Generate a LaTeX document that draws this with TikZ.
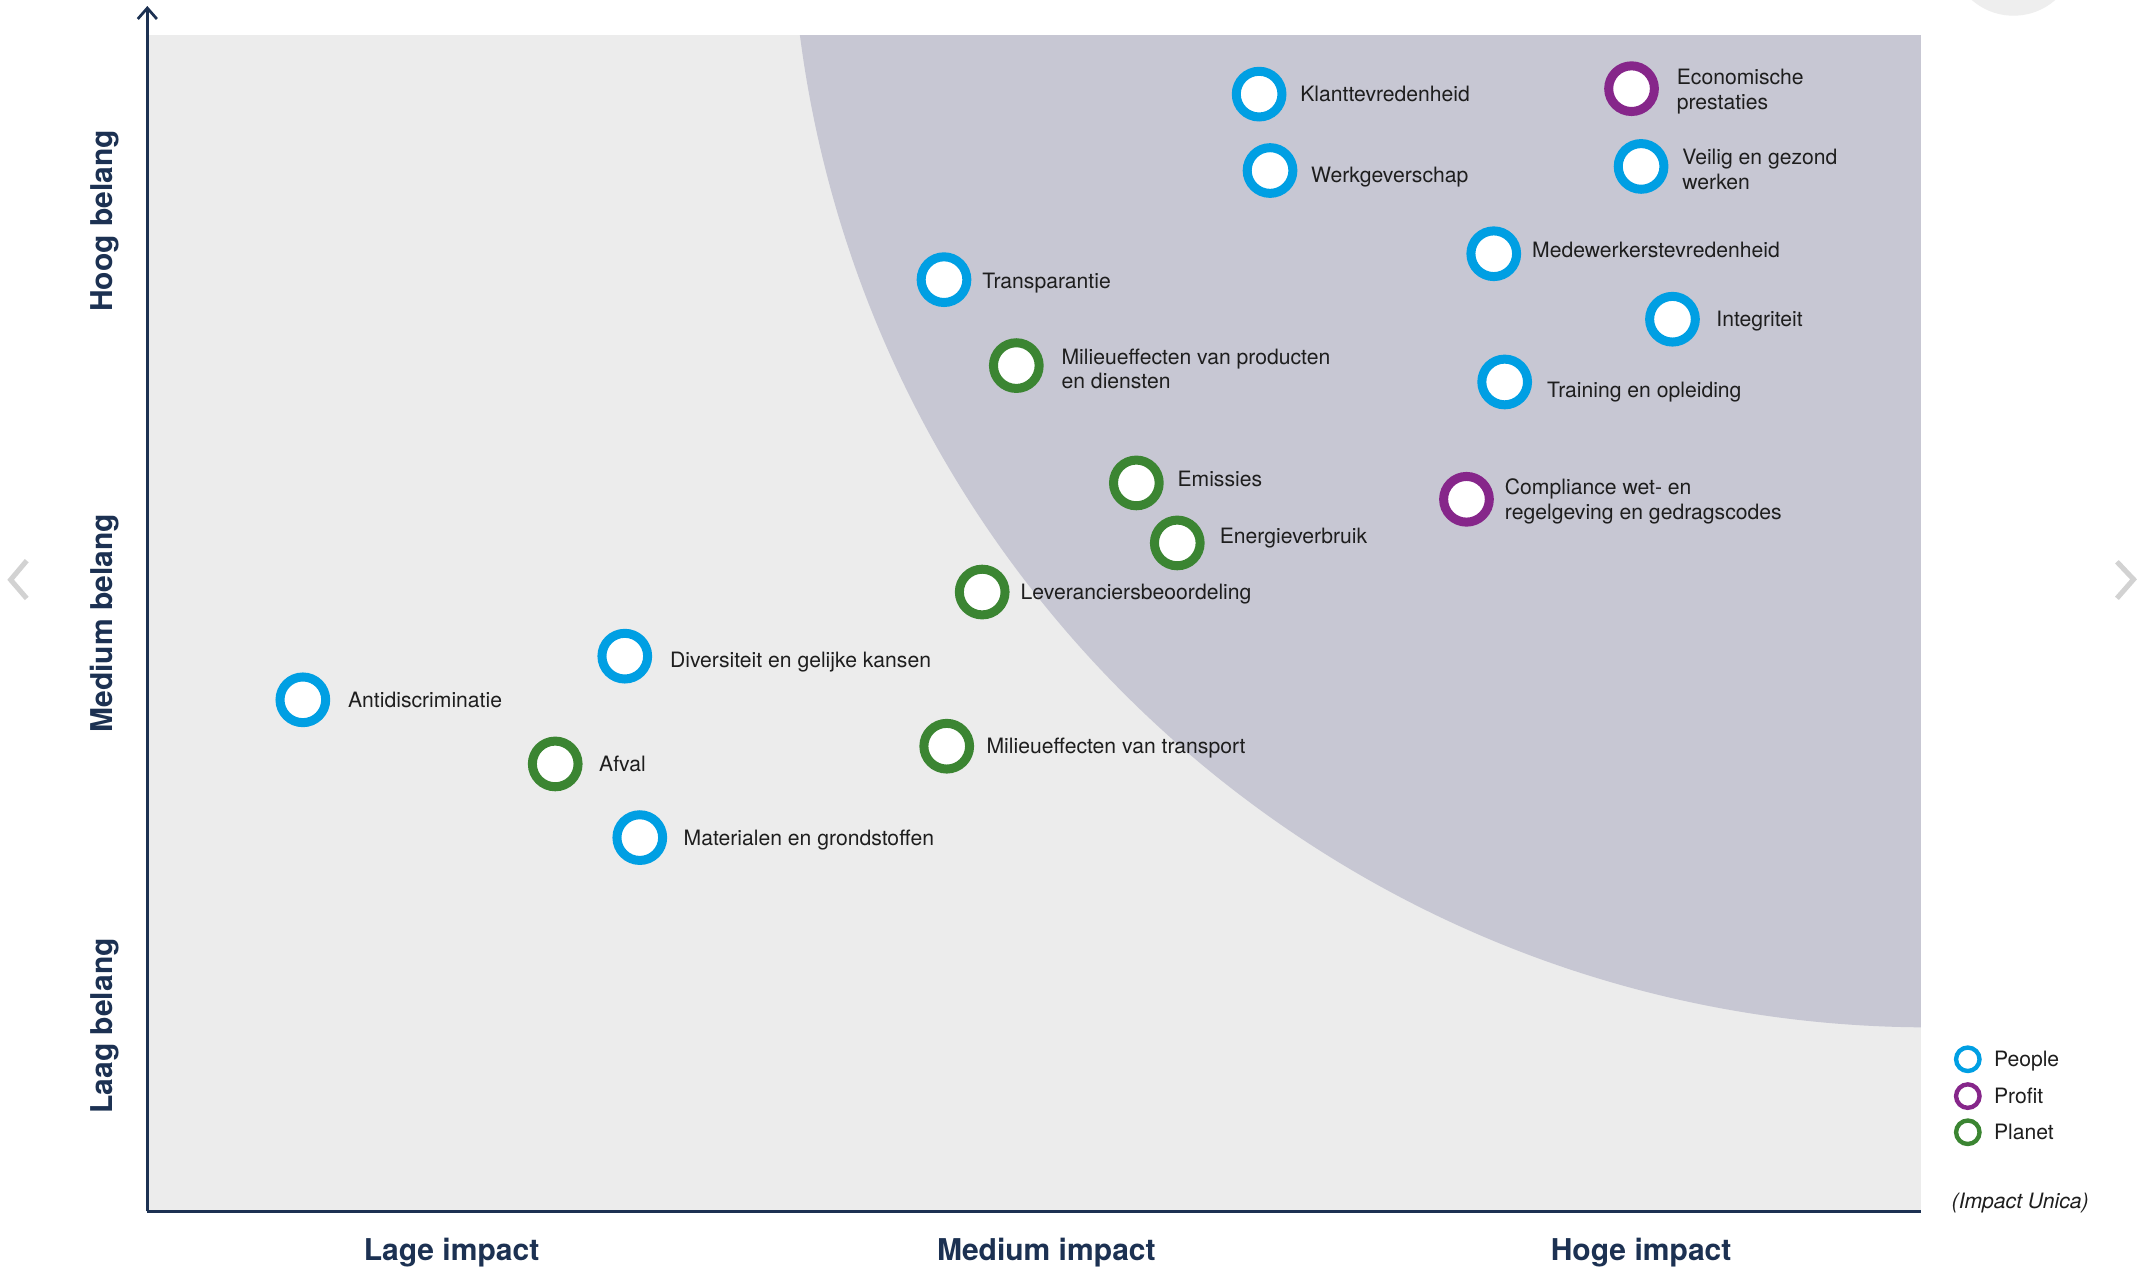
\documentclass[tikz,border=0pt]{standalone}
\usepackage{fontspec}
\setmainfont{TeX Gyre Heros}
\usetikzlibrary{arrows.meta}
\definecolor{cblue}{HTML}{009FE3}
\definecolor{cpurple}{HTML}{86268A}
\definecolor{cgreen}{HTML}{3B8532}
\definecolor{bglight}{HTML}{ECECEC}
\definecolor{bgdark}{HTML}{C7C7D3}
\definecolor{navy}{HTML}{1C3152}
\definecolor{txt}{HTML}{1E1E1E}
\definecolor{uigray}{HTML}{D2D2D2}
\definecolor{uicircle}{HTML}{EEEEEE}
\tikzset{
  ring/.style={circle, draw=#1, fill=white, line width=6.6pt, minimum size=33.5pt, inner sep=0pt},
  lring/.style={circle, draw=#1, fill=white, line width=3.2pt, minimum size=17.2pt, inner sep=0pt},
  lbl/.style={anchor=west, align=left, inner sep=0pt, text=txt, text height=11.2pt, text depth=0pt,
    font=\fontsize{15.5}{18}\selectfont},
  axlbl/.style={text=navy, font=\fontsize{22}{26}\selectfont\bfseries, inner sep=0pt},
  chev/.style={draw=uigray, line width=3.7pt},
}
\begin{document}
\begin{tikzpicture}[x=1pt, y=-1pt]
\path[use as bounding box] (0,0) rectangle (1568,928.77);
\clip (0,0) rectangle (1568,928.77);
\fill[white] (0,0) rectangle (1568,928.77);
% UI elements
\fill[uicircle] (1476,-34.9) circle (46.4);
\draw[chev] (19.6,411) -- (7.8,425) -- (19.6,438.7);
\draw[chev] (1551.8,411.8) -- (1564,424.7) -- (1551.8,438.6);
% plot area
\fill[bglight] (108,25.7) rectangle (1408,888);
\begin{scope}
\clip (108,25.7) rectangle (1408,888);
\fill[bgdark] (1414.5,-81.9) circle (835);
\end{scope}
% axes
\coordinate (origin) at (108,888);
\coordinate (ytop) at (108,4.4);
\coordinate (xend) at (1408,888);
\draw[navy, line width=2pt] (origin) -- (xend);
\draw[navy, line width=2pt, -{Straight Barb[length=8pt, width=14pt, line width=2pt]}] (origin) -- (ytop);
% axis labels
\node[axlbl, rotate=90] (hoog) at (77,162) {Hoog belang};
\node[axlbl, rotate=90] (medb) at (77,457) {Medium belang};
\node[axlbl, rotate=90] (laag) at (77,752) {Laag belang};
\node[axlbl] (lage) at (331,918) {Lage impact};
\node[axlbl] (medi) at (767,918) {Medium impact};
\node[axlbl] (hoge) at (1203,918) {Hoge impact};
% items
\node[ring=cblue] (k) at (923,69) {};
\node[lbl] (kl) at (953,69) {Klanttevredenheid};
\node[ring=cpurple] (ep) at (1196,65) {};
\node[lbl] (epl) at (1229,74.5) {Economische\\prestaties};
\node[ring=cblue] (wg) at (931,125) {};
\node[lbl] (wgl) at (961,128) {Werkgeverschap};
\node[ring=cblue] (vg) at (1203,122) {};
\node[lbl] (vgl) at (1233,133) {Veilig en gezond\\werken};
\node[ring=cblue] (mw) at (1095,186) {};
\node[lbl] (mwl) at (1123,183) {Medewerkerstevredenheid};
\node[ring=cblue] (tr) at (692,205) {};
\node[lbl] (trl) at (720,206) {Transparantie};
\node[ring=cblue] (in) at (1226,234) {};
\node[lbl] (inl) at (1258,234) {Integriteit};
\node[ring=cgreen] (mp) at (745,268) {};
\node[lbl] (mpl) at (778,279.5) {Milieueffecten van producten\\en diensten};
\node[ring=cblue] (to) at (1103,280) {};
\node[lbl] (tol) at (1134,286) {Training en opleiding};
\node[ring=cgreen] (em) at (833,354) {};
\node[lbl] (eml) at (863,351) {Emissies};
\node[ring=cpurple] (co) at (1075,366) {};
\node[lbl] (col) at (1103,375) {Compliance wet- en\\regelgeving en gedragscodes};
\node[ring=cgreen] (en) at (863,398) {};
\node[lbl] (enl) at (894,393) {Energieverbruik};
\node[ring=cgreen] (lv) at (720,434) {};
\node[lbl] (lvl) at (748,434) {Leveranciersbeoordeling};
\node[ring=cblue] (dv) at (458,481) {};
\node[lbl] (dvl) at (491,484) {Diversiteit en gelijke kansen};
\node[ring=cblue] (ad) at (222,513) {};
\node[lbl] (adl) at (255,513) {Antidiscriminatie};
\node[ring=cgreen] (af) at (407,560) {};
\node[lbl] (afl) at (439,560) {Afval};
\node[ring=cgreen] (mt) at (694,547) {};
\node[lbl] (mtl) at (723,547) {Milieueffecten van transport};
\node[ring=cblue] (mg) at (469,614) {};
\node[lbl] (mgl) at (501,614) {Materialen en grondstoffen};
% legend
\node[lring=cblue] (lp) at (1442.5,776.5) {};
\node[lbl] (lpl) at (1461.5,776.5) {People};
\node[lring=cpurple] (lf) at (1442.5,803.5) {};
\node[lbl] (lfl) at (1461.5,803.5) {Profit};
\node[lring=cgreen] (lg) at (1442.5,830) {};
\node[lbl] (lgl) at (1461.5,830) {Planet};
\node[lbl, font=\fontsize{15.5}{18}\selectfont\itshape] (src) at (1430.5,880.5) {(Impact Unica)};
\end{tikzpicture}
\end{document}
